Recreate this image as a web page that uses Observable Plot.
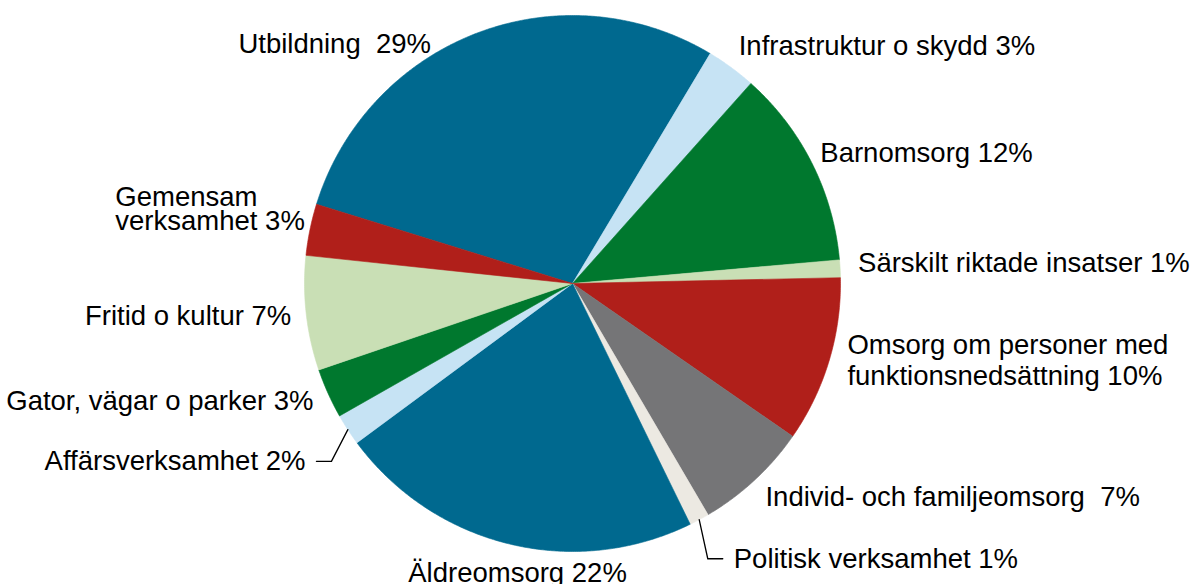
<!DOCTYPE html>
<html>
<head>
<meta charset="utf-8">
<script src="https://cdn.jsdelivr.net/npm/d3@7"></script>
<script src="https://cdn.jsdelivr.net/npm/@observablehq/plot@0.6"></script>
<style>
  html, body { margin: 0; padding: 0; background: #fff; }
  #chart svg { display: block; }
</style>
</head>
<body>
<div id="chart"></div>
<script>
// ---- data ----
const names = [
  "Utbildning\u00A0",
  "Infrastruktur o skydd",
  "Barnomsorg",
  "Särskilt riktade insatser",
  "Omsorg om personer med\nfunktionsnedsättning",
  "Individ- och familjeomsorg\u00A0",
  "Politisk verksamhet",
  "Äldreomsorg",
  "Affärsverksamhet",
  "Gator, vägar o parker",
  "Fritid o kultur",
  "Gemensam\nverksamhet"
];
const shares = [28.8, 3.0, 12.0, 1.06, 10.0, 6.9, 1.2, 22.1, 1.9, 3.0, 6.9, 3.1];
const colors = [
  "#00698f", "#c6e3f4", "#00782e", "#c9dfb5", "#b01f1a", "#757577",
  "#ece9e2", "#00698f", "#c6e3f4", "#00782e", "#c9dfb5", "#b01f1a"
];

// ---- layout (not data) ----
const W = 1201, H = 584;
const CX = 572, CY = 283, R = 268;
const START_DEG = -72.8;
const labelAnchor = ["end","start","start","start","start","start","start","middle","end","end","end","start"];
const labelNudge = [[-40,25],[-2,-10],[-6,-4],[2,-6],[3,-6],[0,4],[27,24],[12.5,13],[-29,22],[0,0],[1,0],[-179,-16]];
const leaderIdx = [6, 8];

const rad = d => d * Math.PI / 180;
const pie = d3.pie().sort(null).value(d => d)
  .startAngle(rad(START_DEG)).endAngle(rad(START_DEG) + 2 * Math.PI);
const arcs = pie(shares);
const polar = (a, r) => [r * Math.sin(a), -r * Math.cos(a)];

// slice polygons
const slicePts = [];
arcs.forEach((a, i) => {
  const n = Math.max(4, Math.ceil((a.endAngle - a.startAngle) / rad(0.4)));
  slicePts.push({i, x: 0, y: 0, c: colors[i]});
  for (let k = 0; k <= n; k++) {
    const t = a.startAngle + (a.endAngle - a.startAngle) * k / n;
    const [x, y] = polar(t, R);
    slicePts.push({i, x, y, c: colors[i]});
  }
  slicePts.push({i, x: 0, y: 0, c: colors[i]});
});

// labels
const labels = arcs.map((a, i) => {
  const mid = (a.startAngle + a.endAngle) / 2;
  const [bx, by] = polar(mid, R + 16);
  return {
    i, mid,
    x: bx + labelNudge[i][0],
    y: by + labelNudge[i][1],
    anchor: labelAnchor[i],
    text: names[i] + " " + Math.round(shares[i]) + "%"
  };
});

// leader lines
const leaders = [];
leaderIdx.forEach(i => {
  const L = labels[i];
  const [x0, y0] = polar(L.mid, R);
  const dir = L.anchor === "start" ? -1 : 1;
  const x2 = L.x + dir * 11, y2 = L.y + 1;
  const x1 = x2 + dir * 15;
  leaders.push({i, x: x0, y: y0}, {i, x: x1, y: y2}, {i, x: x2, y: y2});
});

const font = "'Liberation Sans', Arial, Helvetica, sans-serif";
const FS = 27.5;
const textMark = (filterFn, anchor, lh) => Plot.text(labels.filter(d => filterFn(d) && d.anchor === anchor), {
  x: "x", y: "y", text: "text", textAnchor: anchor, lineAnchor: "middle",
  lineHeight: lh, fontSize: FS, fill: "#000", fontFamily: font
});

const multiTight = d => d.i === 11;
const normal = d => d.i !== 11;

const chart = Plot.plot({
  width: W, height: H,
  margin: 0,
  x: {type: "linear", domain: [-CX, W - CX], range: [0, W], axis: null},
  y: {type: "linear", domain: [-CY, H - CY], range: [0, H], axis: null},
  style: {fontFamily: font, background: "#fff"},
  marks: [
    Plot.line(slicePts, {x: "x", y: "y", z: "i", fill: "c", stroke: "c", strokeWidth: 0.6, curve: "linear"}),
    Plot.line(leaders, {x: "x", y: "y", z: "i", stroke: "#000", strokeWidth: 1.3}),
    textMark(normal, "start", 1.15),
    textMark(normal, "end", 1.15),
    textMark(normal, "middle", 1.15),
    textMark(multiTight, "start", 0.88)
  ]
});
document.getElementById("chart").appendChild(chart);
</script>
</body>
</html>
